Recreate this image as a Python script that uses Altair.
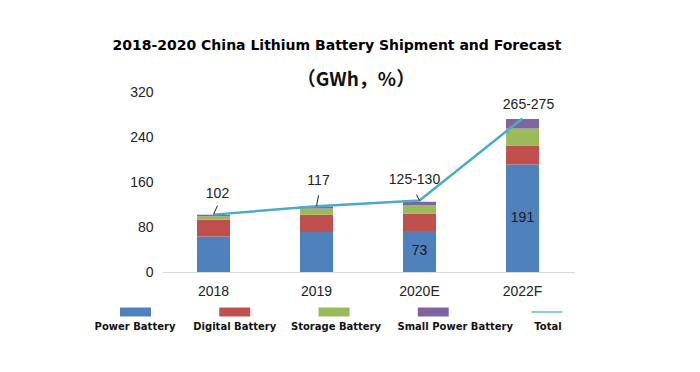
import altair as alt
import pandas as pd

# ---- data ----
years = ["2018", "2019", "2020E", "2022F"]
power = [63, 71, 73, 191]
digital = [30, 31, 31, 34]
storage = [6, 11, 15, 30]
small_power = [3, 4, 6, 17]
total = [102, 117, 127, 273]
total_labels = ["102", "117", "125-130", "265-275"]
series = ["Power Battery", "Digital Battery", "Storage Battery", "Small Power Battery"]
legend_items = series + ["Total"]
inner_label_years = ["2020E", "2022F"]
y_ticks = [0, 80, 160, 240, 320]

title_text = "2018-2020 China Lithium Battery Shipment and Forecast"
subtitle_text = "（GWh，%）"

# ---- styles ----
colors = ["#4F81BD", "#C0504D", "#9BBB59", "#8064A2"]
line_color = "#4BACC6"
FONT = "Liberation Sans"
BOLD_FONT = "DejaVu Sans"

rows = []
for i, yr in enumerate(years):
    for k, (s, vals) in enumerate(zip(series, [power, digital, storage, small_power])):
        rows.append({"year": yr, "series": s, "order": k, "value": vals[i]})
bars_df = pd.DataFrame(rows)
tot_df = pd.DataFrame({"year": years, "total": total, "label": total_labels, "power": power})
legend_df = pd.DataFrame({"item": legend_items})

x_axis = alt.Axis(title=None, labelAngle=0, ticks=False, domainColor="#d9d9d9",
                  labelFontSize=14, labelPadding=12, labelColor="#222", labelFont=FONT)
x_scale = alt.Scale(paddingInner=0, paddingOuter=0)
x_enc = alt.X("year:N", sort=years, scale=x_scale, axis=x_axis)

y_axis = alt.Axis(values=y_ticks, grid=False, domain=False, ticks=False,
                  labelFontSize=14, labelPadding=9, labelColor="#222",
                  labelFont=FONT, title=None)
y_scale = alt.Scale(domain=[0, 320])
color_scale = alt.Scale(domain=series, range=colors)

bars = alt.Chart(bars_df).mark_bar(size=33).encode(
    x=x_enc,
    y=alt.Y("value:Q", stack="zero", scale=y_scale, axis=y_axis),
    color=alt.Color("series:N", scale=color_scale, legend=None),
    order=alt.Order("order:Q", sort="ascending"),
)

line = alt.Chart(tot_df).mark_line(color=line_color, strokeWidth=2.5).encode(
    x=x_enc, y=alt.Y("total:Q", scale=y_scale, axis=y_axis)
)

leader_style = {"2018": (4, -9), "2019": (2, -11), "2020E": (-3, -6)}
leaders = []
for yr, (dx, dy) in leader_style.items():
    leaders.append(
        alt.Chart(tot_df).transform_filter(alt.datum.year == yr)
        .mark_rule(color="#222", strokeWidth=1, x2Offset=dx, y2Offset=dy)
        .encode(x=alt.X("year:N", sort=years, scale=x_scale, axis=x_axis, bandPosition=0.5),
                x2=alt.X2("year", bandPosition=0.5),
                y=alt.Y("total:Q", scale=y_scale, axis=y_axis), y2="total:Q")
    )

label_style = {"2018": (4, -21), "2019": (2, -25), "2020E": (-5, -21), "2022F": (6, -13)}
labels = []
for yr, (dx, dy) in label_style.items():
    labels.append(
        alt.Chart(tot_df).transform_filter(alt.datum.year == yr)
        .mark_text(fontSize=14, color="#222", font=FONT, dx=dx, dy=dy, baseline="middle")
        .encode(x=x_enc, y=alt.Y("total:Q", scale=y_scale, axis=y_axis), text="label:N")
    )

inner = alt.Chart(tot_df).transform_filter(
    alt.FieldOneOfPredicate(field="year", oneOf=inner_label_years)
).transform_calculate(mid="datum.power / 2").mark_text(
    fontSize=14, color="#1a1a1a", font=FONT, baseline="middle"
).encode(x=x_enc, y=alt.Y("mid:Q", scale=y_scale, axis=y_axis), text="power:Q")

subtitle = alt.Chart(alt.Data(values=[{"t": subtitle_text}])).mark_text(
    font="Noto Sans CJK SC", fontSize=19, fontWeight="bold", color="#111", baseline="middle"
).encode(x=alt.value(194), y=alt.value(-12), text="t:N")

main = alt.layer(bars, line, *leaders, *labels, inner, subtitle)

# ---- custom legend (symbols above, labels below) ----
leg_x = alt.X("item:N", sort=legend_items,
              scale=alt.Scale(type="point", domain=legend_items, range=[-26.5, 370.5], padding=0),
              axis=None)
rect_path = "M-1,-0.29L1,-0.29L1,0.29L-1,0.29Z"
thin_path = "M-1,-0.04L1,-0.04L1,0.04L-1,0.04Z"

leg_sym = alt.Chart(legend_df).transform_filter(
    alt.FieldOneOfPredicate(field="item", oneOf=series)
).mark_point(shape=rect_path, size=961, filled=True, opacity=1, strokeWidth=0).encode(
    x=leg_x, y=alt.value(220),
    color=alt.Color("item:N", scale=color_scale, legend=None),
)
leg_line = alt.Chart(legend_df).transform_filter(alt.datum.item == "Total").mark_point(
    shape=thin_path, size=961, filled=True, opacity=1, strokeWidth=0, color=line_color,
    xOffset=14.5
).encode(x=leg_x, y=alt.value(220))

label_dx = {"Power Battery": -0.5, "Digital Battery": 0, "Storage Battery": 2,
            "Small Power Battery": 22, "Total": 15.5}
leg_texts = []
for item, dx in label_dx.items():
    leg_texts.append(
        alt.Chart(legend_df).transform_filter(alt.datum.item == item).mark_text(
            font=BOLD_FONT, fontSize=10, fontWeight="bold", color="#111",
            baseline="middle", dx=dx
        ).encode(x=leg_x, y=alt.value(235), text="item:N")
    )

legend = alt.layer(leg_sym, leg_line, *leg_texts)

chart = alt.layer(main, legend).resolve_scale(x="independent").properties(
    width=412, height=180,
    background="white",
    title=alt.TitleParams(text=title_text, font=BOLD_FONT, fontSize=14, fontWeight="bold",
                          color="#000", anchor="middle", dx=-31, offset=18),
    autosize=alt.AutoSizeParams(type="none"),
    padding={"left": 154, "top": 84, "right": 118, "bottom": 92},
).configure_view(strokeWidth=0, stroke="transparent")

chart.save("out.html", embed_options={"renderer": "svg", "actions": False})
